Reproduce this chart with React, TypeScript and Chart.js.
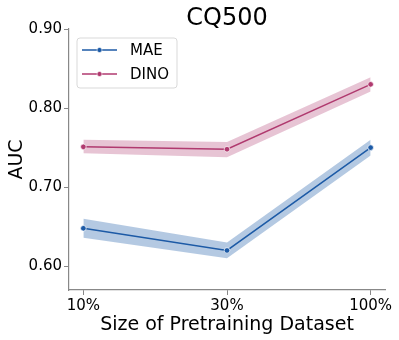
import { useEffect, useRef } from "react";
import { Chart, registerables } from "chart.js";
Chart.register(...registerables);

const categories = ["10%", "30%", "100%"];
const maeMean = [0.648, 0.62, 0.75];
const maeLow = [0.636, 0.61, 0.74];
const maeHigh = [0.66, 0.63, 0.76];
const dinoMean = [0.751, 0.748, 0.83];
const dinoLow = [0.743, 0.738, 0.821];
const dinoHigh = [0.76, 0.757, 0.839];
const yTicks = [0.6, 0.7, 0.8, 0.9];
const seriesNames = ["MAE", "DINO"];
const titleText = "CQ500";
const xTitle = "Size of Pretraining Dataset";
const yTitle = "AUC";

const MAE_COLOR = "#1c5aa6";
const DINO_COLOR = "#b03a6f";
const MAE_BAND = "rgba(28,90,166,0.33)";
const DINO_BAND = "rgba(176,58,111,0.3)";
const FONT = "DejaVu Sans";

const pts = (arr: number[]) => arr.map((y, i) => ({ x: i, y }));

export default function App() {
  const ref = useRef<HTMLCanvasElement | null>(null);
  useEffect(() => {
    if (!ref.current) return;
    const textPlugin = {
      id: "texts",
      afterDraw(chart: any) {
        const ctx = chart.ctx;
        const area = chart.chartArea;
        ctx.save();
        ctx.fillStyle = "#000";
        ctx.textAlign = "center";
        ctx.textBaseline = "alphabetic";
        ctx.font = `24px "${FONT}"`;
        ctx.fillText(titleText, (area.left + area.right) / 2, 25);
        ctx.font = `19px "${FONT}"`;
        ctx.fillText(xTitle, (area.left + area.right) / 2, 330);
        ctx.translate(22, (area.top + area.bottom) / 2);
        ctx.rotate(-Math.PI / 2);
        ctx.fillText(yTitle, 0, 0);
        ctx.restore();

        // legend
        ctx.save();
        const bx = 77, by = 38, bw = 100, bh = 50, r = 3;
        ctx.beginPath();
        ctx.moveTo(bx + r, by);
        ctx.arcTo(bx + bw, by, bx + bw, by + bh, r);
        ctx.arcTo(bx + bw, by + bh, bx, by + bh, r);
        ctx.arcTo(bx, by + bh, bx, by, r);
        ctx.arcTo(bx, by, bx + bw, by, r);
        ctx.closePath();
        ctx.fillStyle = "rgba(255,255,255,0.8)";
        ctx.fill();
        ctx.strokeStyle = "#d9d9d9";
        ctx.lineWidth = 1;
        ctx.stroke();
        const colors = [MAE_COLOR, DINO_COLOR];
        const rows = [50, 74];
        seriesNames.forEach((name, i) => {
          const y = rows[i];
          ctx.strokeStyle = colors[i];
          ctx.lineWidth = 1.5;
          ctx.beginPath();
          ctx.moveTo(82, y);
          ctx.lineTo(117, y);
          ctx.stroke();
          ctx.beginPath();
          ctx.arc(99.5, y, 2.5, 0, Math.PI * 2);
          ctx.fillStyle = colors[i];
          ctx.fill();
          ctx.strokeStyle = "#fff";
          ctx.lineWidth = 0.6;
          ctx.stroke();
          ctx.fillStyle = "#000";
          ctx.font = `15px "${FONT}"`;
          ctx.textAlign = "left";
          ctx.textBaseline = "middle";
          ctx.fillText(name, 130, y + 1);
        });
        ctx.restore();
      },
    };

    const lineDs = (label: string, data: number[], color: string, order: number) => ({
      label,
      data: pts(data),
      borderColor: color,
      backgroundColor: color,
      borderWidth: 1.5,
      pointRadius: 2.8,
      pointBackgroundColor: color,
      pointBorderColor: "#fff",
      pointBorderWidth: 0.7,
      fill: false,
      order,
    });
    const bandDs = (label: string, data: number[], color: string, fill: any, order: number) => ({
      label,
      data: pts(data),
      borderWidth: 0,
      borderColor: "rgba(0,0,0,0)",
      backgroundColor: color,
      pointRadius: 0,
      fill,
      order,
    });

    const chart = new Chart(ref.current, {
      type: "line",
      data: {
        datasets: [
          lineDs(seriesNames[0], maeMean, MAE_COLOR, 1),
          lineDs(seriesNames[1], dinoMean, DINO_COLOR, 1),
          bandDs("maeLow", maeLow, MAE_BAND, false, 5),
          bandDs("maeHigh", maeHigh, MAE_BAND, "-1", 5),
          bandDs("dinoLow", dinoLow, DINO_BAND, false, 5),
          bandDs("dinoHigh", dinoHigh, DINO_BAND, "-1", 5),
        ] as any,
      },
      options: {
        animation: false,
        responsive: false,
        events: [],
        layout: { padding: { top: 29, right: 14, left: 0, bottom: 0 } },
        plugins: { legend: { display: false }, tooltip: { enabled: false }, title: { display: false } },
        elements: { line: { tension: 0 } },
        scales: {
          x: {
            type: "linear",
            min: -0.1,
            max: 2.1,
            afterBuildTicks: (s: any) => {
              s.ticks = categories.map((_, i) => ({ value: i }));
            },
            afterFit: (s: any) => {
              s.height = 50;
            },
            ticks: {
              callback: (v: any) => categories[v] ?? "",
              font: { family: FONT, size: 15 },
              color: "#000",
              padding: 2,
              maxRotation: 0,
              autoSkip: false,
            },
            grid: { drawOnChartArea: false, drawTicks: true, tickLength: 5, color: "#888", lineWidth: 1 },
            border: { display: true, color: "#888", width: 1.2 },
          },
          y: {
            type: "linear",
            min: 0.57,
            max: 0.9,
            afterBuildTicks: (s: any) => {
              s.ticks = yTicks.map((v) => ({ value: v }));
            },
            afterFit: (s: any) => {
              s.width = 69;
            },
            ticks: {
              callback: (v: any) => Number(v).toFixed(2),
              font: { family: FONT, size: 15 },
              color: "#000",
              padding: 2,
              autoSkip: false,
            },
            grid: { drawOnChartArea: false, drawTicks: true, tickLength: 5, color: "#888", lineWidth: 1 },
            border: { display: true, color: "#888", width: 1.2 },
          },
        },
      },
      plugins: [textPlugin],
    } as any);
    return () => chart.destroy();
  }, []);
  return (
    <div style={{ position: "absolute", left: 0, top: 0, width: 399, height: 340, background: "#fff" }}>
      <canvas ref={ref} width={399} height={340} style={{ display: "block" }} />
    </div>
  );
}
